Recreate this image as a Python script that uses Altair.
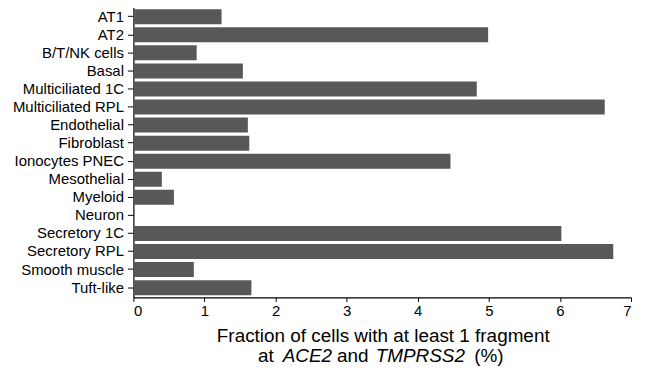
import altair as alt
import pandas as pd

categories = ["AT1", "AT2", "B/T/NK cells", "Basal", "Multiciliated 1C", "Multiciliated RPL",
              "Endothelial", "Fibroblast", "Ionocytes PNEC", "Mesothelial", "Myeloid", "Neuron",
              "Secretory 1C", "Secretory RPL", "Smooth muscle", "Tuft-like"]
values = [1.24, 4.99, 0.89, 1.54, 4.83, 6.63, 1.61, 1.63, 4.46, 0.40, 0.57, 0.0,
          6.02, 6.75, 0.85, 1.66]
x_ticks = [0, 1, 2, 3, 4, 5, 6, 7]

title_line1 = "Fraction of cells with at least 1 fragment"
title_pieces = ["at", "ACE2", "and", "TMPRSS2", "(%)"]
title_styles = ["normal", "italic", "normal", "italic", "normal"]
title_x = [125.3, 150, 204.5, 243.5, 342.5]

FONT = "Liberation Sans"
df = pd.DataFrame({"cat": categories, "val": values})

bars = alt.Chart(df).mark_bar(color="#58585a").encode(
    y=alt.Y("cat:N", sort=categories,
            scale=alt.Scale(paddingInner=0.17, paddingOuter=0.13),
            axis=alt.Axis(title=None, labelFont=FONT, labelFontSize=15, labelColor="black",
                          tickSize=6, tickColor="black", domainColor="black",
                          labelPadding=4, tickWidth=1, domainWidth=1.2, grid=False)),
    x=alt.X("val:Q", scale=alt.Scale(domain=[0, 7], nice=False),
            axis=alt.Axis(title=None, values=x_ticks, grid=False, labelFont=FONT,
                          labelFontSize=15, labelColor="black", tickSize=4,
                          tickColor="black", domainColor="black", labelPadding=2,
                          domainWidth=1.2)),
)

line1 = alt.Chart(pd.DataFrame({"t": [title_line1]})).mark_text(
    font=FONT, fontSize=19, align="center", baseline="alphabetic", color="black"
).encode(text="t:N", x=alt.value(251), y=alt.value(337))

parts = []
for t, s, px in zip(title_pieces, title_styles, title_x):
    parts.append(alt.Chart(pd.DataFrame({"t": [t]})).mark_text(
        font=FONT, fontSize=19, align="left", baseline="alphabetic", color="black",
        fontStyle=s
    ).encode(text="t:N", x=alt.value(px), y=alt.value(357)))

chart = alt.layer(bars, line1, *parts).properties(
    width=500, height=292,
    autosize=alt.AutoSizeParams(type="none"),
    padding={"left": 126, "top": -2, "right": 6, "bottom": 68},
    background="white",
).configure(
    view=alt.ViewConfig(stroke="transparent", strokeWidth=0),
    axis=alt.AxisConfig(grid=False),
    style={"cell": {"stroke": "transparent", "strokeWidth": 0}},
)

chart.save("out.html", embed_options={"renderer": "svg", "actions": False})
